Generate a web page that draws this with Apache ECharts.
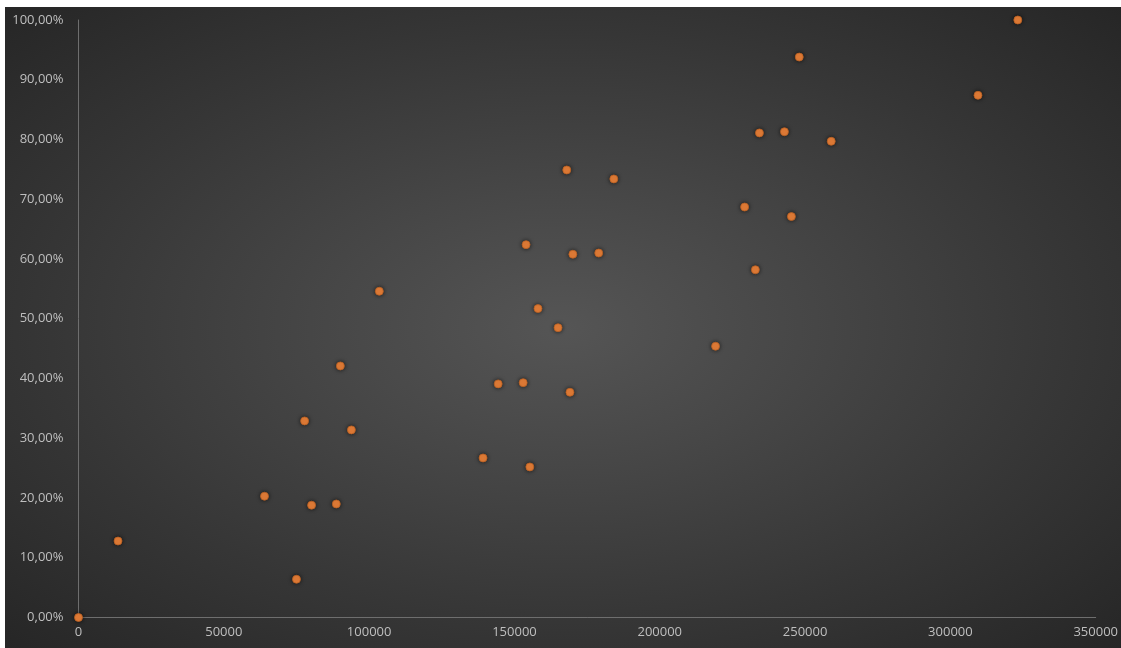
<!DOCTYPE html>
<html>
<head>
<meta charset="utf-8">
<script src="https://cdn.jsdelivr.net/npm/echarts@6/dist/echarts.min.js"></script>
<style>
  html, body { margin: 0; padding: 0; background: #ffffff; overflow: hidden; }
  #main {
    position: absolute; left: 5px; top: 7px; width: 1116px; height: 641px;
    background: radial-gradient(ellipse farthest-corner at 50% 50%, #555555 0%, #474747 30%, #363636 65%, #262626 100%);
  }
</style>
</head>
<body>
<div id="main"></div>
<script>
// x: value, y: share in percent
var xValues = [0, 13600, 64000, 77800, 80200, 75000, 88700, 90100, 93900, 103500,
  139200, 144400, 153000, 154000, 155300, 158100, 165000, 168000, 169100, 170100,
  179000, 184200, 219200, 229200, 232900, 234300, 242900, 245300, 248000, 259000,
  309500, 323200];
var yValues = [0, 12.8, 20.3, 32.9, 18.8, 6.4, 19.0, 42.1, 31.4, 54.6,
  26.7, 39.1, 39.3, 62.4, 25.2, 51.7, 48.5, 74.9, 37.7, 60.8,
  61.0, 73.4, 45.4, 68.7, 58.2, 81.1, 81.3, 67.1, 93.8, 79.7,
  87.4, 100];

var points = xValues.map(function (x, i) { return [x, yValues[i]]; });

var labelStyle = { color: '#bfbfbf', fontFamily: 'Open Sans', fontSize: 13 };

var chart = echarts.init(document.getElementById('main'));
chart.setOption({
  backgroundColor: 'transparent',
  animation: false,
  grid: { left: 73.5, right: 19, top: 13, bottom: 30.5, containLabel: false },
  xAxis: {
    type: 'value', min: 0, max: 350000, interval: 50000,
    axisLine: { show: true, lineStyle: { color: '#6e6e6e', width: 1 } },
    axisTick: { show: false },
    splitLine: { show: false },
    axisLabel: Object.assign({
      margin: 8,
      formatter: function (v) { return String(v); }
    }, labelStyle)
  },
  yAxis: {
    type: 'value', min: 0, max: 100, interval: 10,
    axisLine: { show: true, lineStyle: { color: '#6e6e6e', width: 1 } },
    axisTick: { show: false },
    splitLine: { show: false },
    axisLabel: Object.assign({
      margin: 15,
      formatter: function (v) { return v.toFixed(2).replace('.', ',') + '%'; }
    }, labelStyle)
  },
  series: [{
    type: 'scatter',
    data: points,
    symbolSize: 8,
    itemStyle: {
      color: '#f0843a', opacity: 1,
      borderColor: '#b95f22', borderWidth: 0.8,
      shadowBlur: 4, shadowColor: 'rgba(0,0,0,0.6)'
    }
  }]
});
</script>
</body>
</html>
